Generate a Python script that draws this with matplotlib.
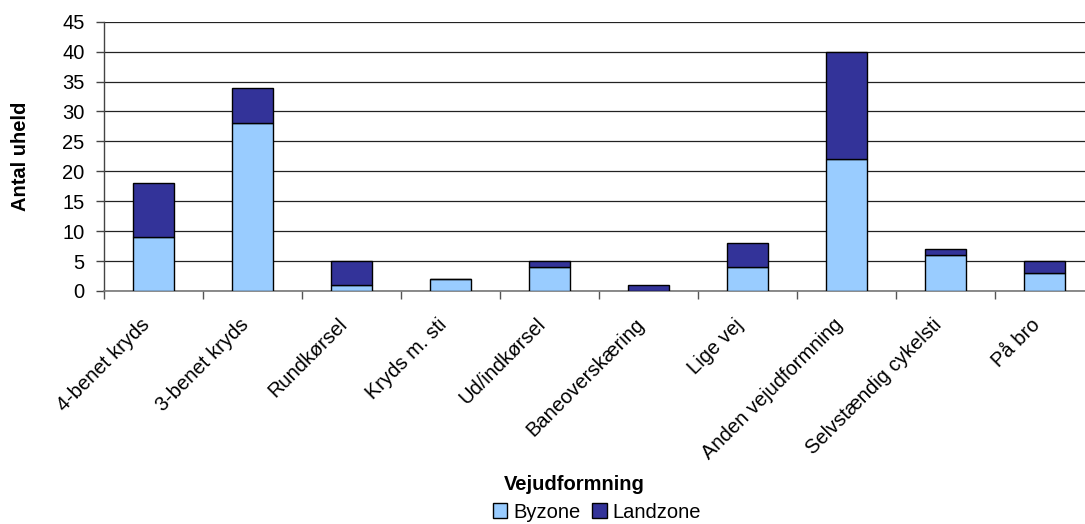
import matplotlib
matplotlib.use("Agg")
import matplotlib.pyplot as plt
import matplotlib.transforms as mtransforms
import numpy as np

plt.rcParams['font.family'] = ['Liberation Sans', 'DejaVu Sans']

categories = ["4-benet kryds", "3-benet kryds", "Rundkørsel", "Kryds m. sti",
              "Ud/indkørsel", "Baneoverskæring", "Lige vej",
              "Anden vejudformning", "Selvstændig cykelsti", "På bro"]
byzone = [9, 28, 1, 2, 4, 0, 4, 22, 6, 3]
landzone = [9, 6, 4, 0, 1, 1, 4, 18, 1, 2]
yticks = [0, 5, 10, 15, 20, 25, 30, 35, 40, 45]

FS = 14.5
W, H = 1085, 524
fig = plt.figure(figsize=(W / 100, H / 100), dpi=100)
left, right, top, bottom = 104, 1094, 21.7, 291
ax = fig.add_axes([left / W, 1 - bottom / H, (right - left) / W, (bottom - top) / H])

x = np.arange(len(categories))
bw = 0.41
ax.bar(x, byzone, bw, color="#99CCFF", edgecolor="black", linewidth=1, label="Byzone", zorder=3)
ax.bar(x, landzone, bw, bottom=byzone, color="#333399", edgecolor="black", linewidth=1,
       label="Landzone", zorder=3)

ax.set_xlim(-0.5, len(categories) - 0.5)
ax.set_ylim(0, 45)
ax.set_yticks(yticks)
ax.set_yticklabels([str(v) for v in yticks], fontsize=FS)
ax.yaxis.grid(True, color="#222222", linewidth=0.9, zorder=0)
ax.tick_params(axis="y", direction="out", length=6, width=1, pad=8, color="#444444")

# category labels at centres, tick marks at category boundaries
ax.set_xticks(x)
ax.set_xticklabels(categories, rotation=45, ha="right", va="center",
                   rotation_mode="anchor", fontsize=FS)
ax.tick_params(axis="x", which="major", length=0, pad=22)
shift = mtransforms.ScaledTranslation(-7 / 100, 0, fig.dpi_scale_trans)
for lbl in ax.get_xticklabels():
    lbl.set_transform(lbl.get_transform() + shift)
ax.set_xticks(np.arange(-0.5, len(categories), 1.0), minor=True)
ax.tick_params(axis="x", which="minor", direction="out", length=6, width=1, color="#555555")

for s in ["top", "right"]:
    ax.spines[s].set_visible(False)
ax.spines["left"].set_color("#444444")
ax.spines["bottom"].set_color("#777777")
ax.spines["left"].set_linewidth(1)
ax.spines["bottom"].set_linewidth(1.2)

fig.text(21 / W, 1 - 156 / H, "Antal uheld", rotation=90, ha="center", va="center",
         fontsize=FS, fontweight="bold")
fig.text(574 / W, 1 - 485 / H, "Vejudformning", ha="center", va="center",
         fontsize=FS, fontweight="bold")

fig.legend(loc="center", bbox_to_anchor=(597 / W, 1 - 512 / H), ncol=2, frameon=False,
           fontsize=FS, handlelength=0.7, handleheight=0.7, handletextpad=0.3,
           columnspacing=0.6, borderaxespad=0, borderpad=0)

fig.savefig("out.png", dpi=100)
